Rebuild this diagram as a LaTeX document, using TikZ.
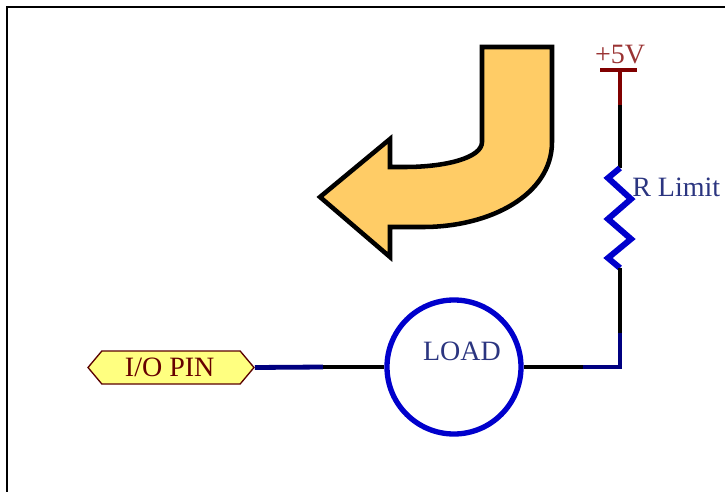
\documentclass[tikz,border=0pt]{standalone}
\usepackage{fontspec}
\setmainfont{Liberation Serif}
\usetikzlibrary{shapes.symbols}
\definecolor{wirenavy}{HTML}{000080}
\definecolor{wireblue}{HTML}{0000CC}
\definecolor{powerred}{HTML}{800000}
\definecolor{pinfill}{HTML}{FFFF80}
\definecolor{arrowfill}{HTML}{FFCC66}
\definecolor{labelblue}{HTML}{2B3580}
\tikzset{
    labeltext/.style={text=labelblue, inner sep=0pt, font=\fontsize{21}{24}\selectfont},
    wire/.style={line width=3.6pt}
}
\begin{document}
\begin{tikzpicture} [x=0.75pt, y=-0.75pt]
    \useasboundingbox (0, 0) rectangle (725, 492);

    % Rahmen
    \draw [line width=2pt] (7, 492) -- (7, 7) -- (725, 7);

    % Pfeil
    \draw [fill=arrowfill, line width=3.4pt, miter limit=10] (482, 47) -- (552, 47) -- (552, 142)
        .. controls (552, 195) and (490, 227) .. (423, 227) -- (390, 227) -- (390, 257) -- (320, 197) -- (390, 139) -- (390, 167) -- (405, 167)
        .. controls (445, 167) and (482, 158) .. (482, 142) -- cycle;

    % Versorgung
    \node [text=powerred!80!white, inner sep=0pt, font=\fontsize{21}{24}\selectfont] (supply) at (620, 55) {+5V};
    \coordinate (barleft) at (600, 70);
    \coordinate (barright) at (637, 70);
    \coordinate (bar) at (620, 70);
    \draw [powerred, line width=3pt] (barleft) -- (barright);
    \coordinate (redend) at (620, 105);
    \draw [powerred, line width=3pt] (bar) -- (redend);

    % Widerstand
    \coordinate (rtop) at (620, 168);
    \coordinate (rbottom) at (620, 268);
    \draw [line width=3pt] (redend) -- (rtop);
    \draw [wireblue, line width=4.5pt, line join=miter] (rtop) -- (608, 178) -- (631, 199) -- (608, 219) -- (631, 239) -- (608, 258) -- (rbottom);
    \node [labeltext, anchor=west] (rlabel) at (632, 187) {R Limit};

    % Last
    \node [circle, draw=wireblue, line width=4pt, minimum size=134pt*0.75, inner sep=0pt] (load) at (454, 367) {};
    \node [labeltext] (loadlabel) at (462, 351) {LOAD};

    % Leitung rechts
    \coordinate (corner) at (620, 367);
    \coordinate (navyup) at (620, 333);
    \coordinate (navyright) at (583, 367);
    \draw [line width=3pt] (rbottom) -- (navyup);
    \draw [wirenavy, line width=3pt] (navyup) -- (corner);
    \draw [wirenavy, wire, line cap=rect] (corner) -- (navyright);
    \draw [wire] (navyright) -- (load.east);

    % Pin
    \node [signal, signal to=east and west, signal from=nowhere, signal pointer angle=100, draw=powerred!70!black, fill=pinfill,
        line width=1pt, minimum width=166*0.75pt, minimum height=33*0.75pt, inner sep=0pt,
        text=powerred!80!black, font=\fontsize{21}{24}\selectfont] (pin) at (171, 367.5) {\hspace{-2pt}I/O PIN};
    \coordinate (navyleft) at (323, 367);
    \draw [wirenavy, wire] (pin.east) -- (navyleft);
    \draw [wire] (navyleft) -- (load.west);
\end{tikzpicture}
\end{document}
